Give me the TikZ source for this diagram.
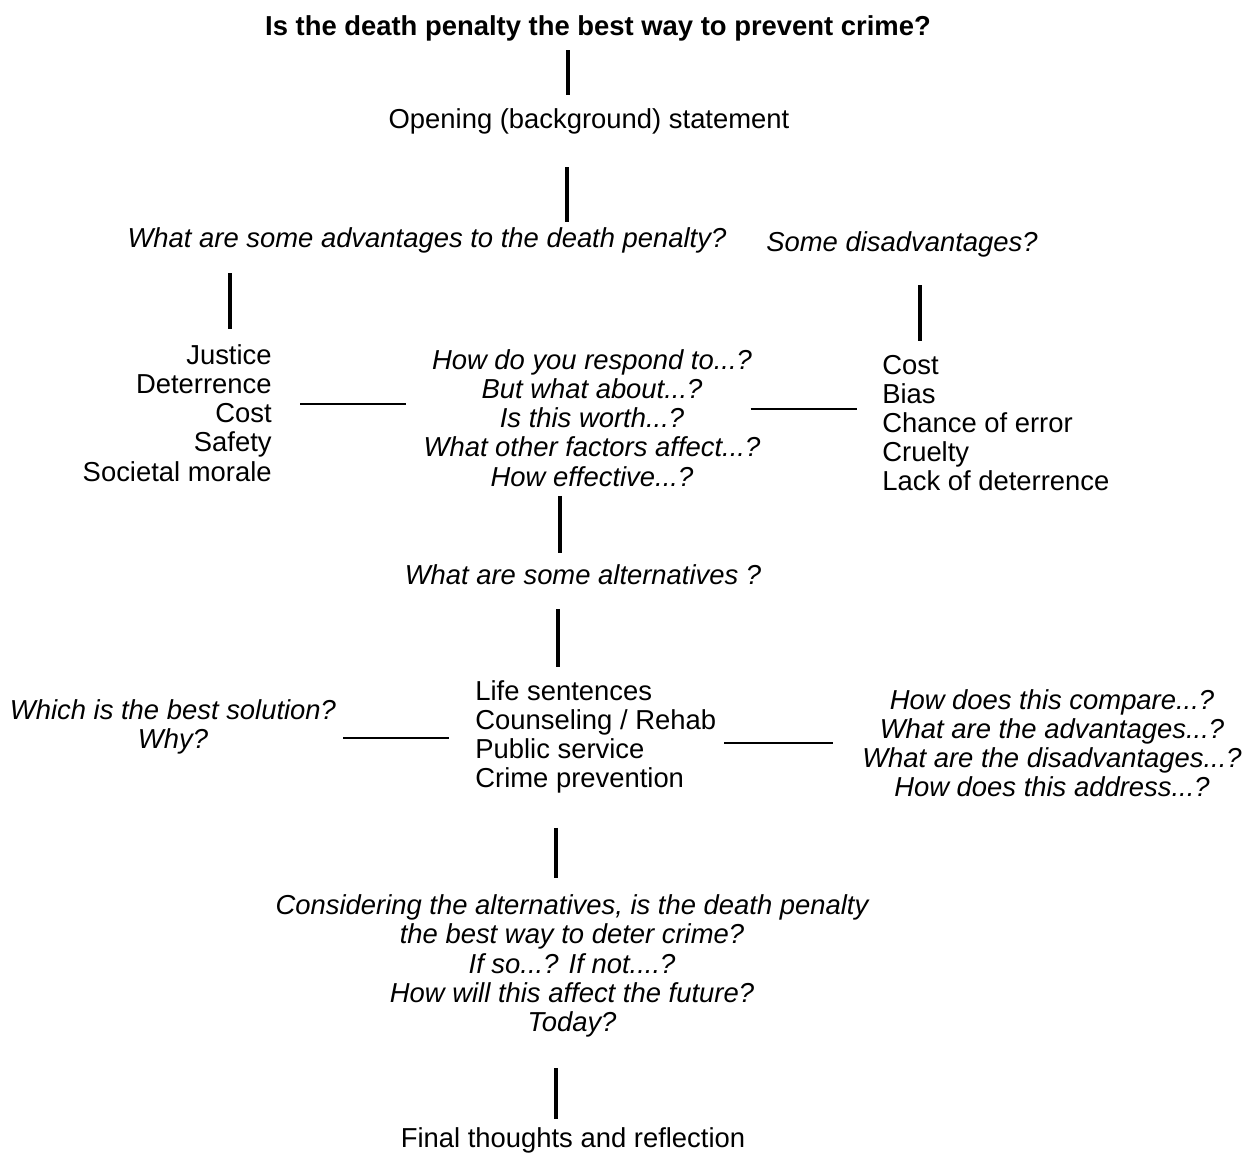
\documentclass[tikz,border=0pt]{standalone}
\usepackage{fontspec}
\setmainfont{Liberation Sans}

\tikzset{
  txt/.style={inner sep=0pt, font=\fontsize{15.6}{16.6}\selectfont},
  ask/.style={inner sep=0pt, font=\fontsize{15.6}{16.6}\selectfont\itshape},
  stem/.style={line width=2.3pt},
  rung/.style={line width=1.4pt},
  gap/.style 2 args={shorten <=#1*0.02cm, shorten >=#2*0.02cm}
}

\begin{document}
\begin{tikzpicture}[x=0.02cm, y=-0.02cm]
\useasboundingbox (0,0) rectangle (1259,1154);

% question and opening
\node[txt, font=\fontsize{15.6}{16.6}\selectfont\bfseries] (title) at (598,28) {Is the death penalty the best way to prevent crime?};
\node[txt] (open) at (589,121) {Opening (background) statement};

% pros and cons
\node[ask] (advq) at (427,240) {What are some advantages to the death penalty?};
\node[ask] (disq) at (902,244) {Some disadvantages?};
\node[txt, align=right, anchor=east] (adv) at (272,413) {Justice\\Deterrence\\Cost\\Safety\\Societal morale};
\node[ask, align=center] (resp) at (592,418) {How do you respond to...?\\But what about...?\\Is this worth...?\\What other factors affect...?\\How effective...?};
\node[txt, align=left, anchor=west] (dis) at (882,423) {Cost\\Bias\\Chance of error\\Cruelty\\Lack of deterrence};

% alternatives
\node[ask] (altq) at (583,575) {What are some alternatives ?};
\node[ask, align=center] (best) at (173,727) {Which is the best solution?\\Why?};
\node[txt, align=left, anchor=west] (alts) at (475,737) {Life sentences\\Counseling / Rehab\\Public service\\Crime prevention};
\node[ask, align=center] (cmpq) at (1052,743) {How does this compare...?\\What are the advantages...?\\What are the disadvantages...?\\How does this address...?};

% wrap up
\node[ask, align=center] (cons) at (572,966) {Considering the alternatives, is the death penalty\\the best way to deter crime?\\If so...? If not....?\\How will this affect the future?\\Today?};
\node[txt] (final) at (573,1140) {Final thoughts and reflection};

% connectors
\draw[stem, gap={9}{13}] (title.south -| 568,0) -- (open.north -| 568,0);
\draw[stem, gap={33}{5}] (open.south -| 567,0) -- (advq.north -| 567,0);
\draw[stem, gap={20}{15}] (advq.south -| 230,0) -- (adv.north -| 230,0);
\draw[stem, gap={28}{14}] (disq.south -| 920,0) -- (dis.north -| 920,0);
\draw[rung, gap={28}{17}] (adv.east |- 0,404) -- (resp.west |- 0,404);
\draw[rung, gap={-10}{25}] (resp.east |- 0,409) -- (dis.west |- 0,409);
\draw[stem, gap={9}{12}] (resp.south -| 560,0) -- (altq.north -| 560,0);
\draw[stem, gap={24}{13}] (altq.south -| 558,0) -- (alts.north -| 558,0);
\draw[rung, gap={7}{26}] (best.east |- 0,738) -- (alts.west |- 0,738);
\draw[rung, gap={8}{29}] (alts.east |- 0,743) -- (cmpq.west |- 0,743);
\draw[stem, gap={34}{17}] (alts.south -| 556,0) -- (cons.north -| 556,0);
\draw[stem, gap={31}{8}] (cons.south -| 556,0) -- (final.north -| 556,0);
\end{tikzpicture}
\end{document}
